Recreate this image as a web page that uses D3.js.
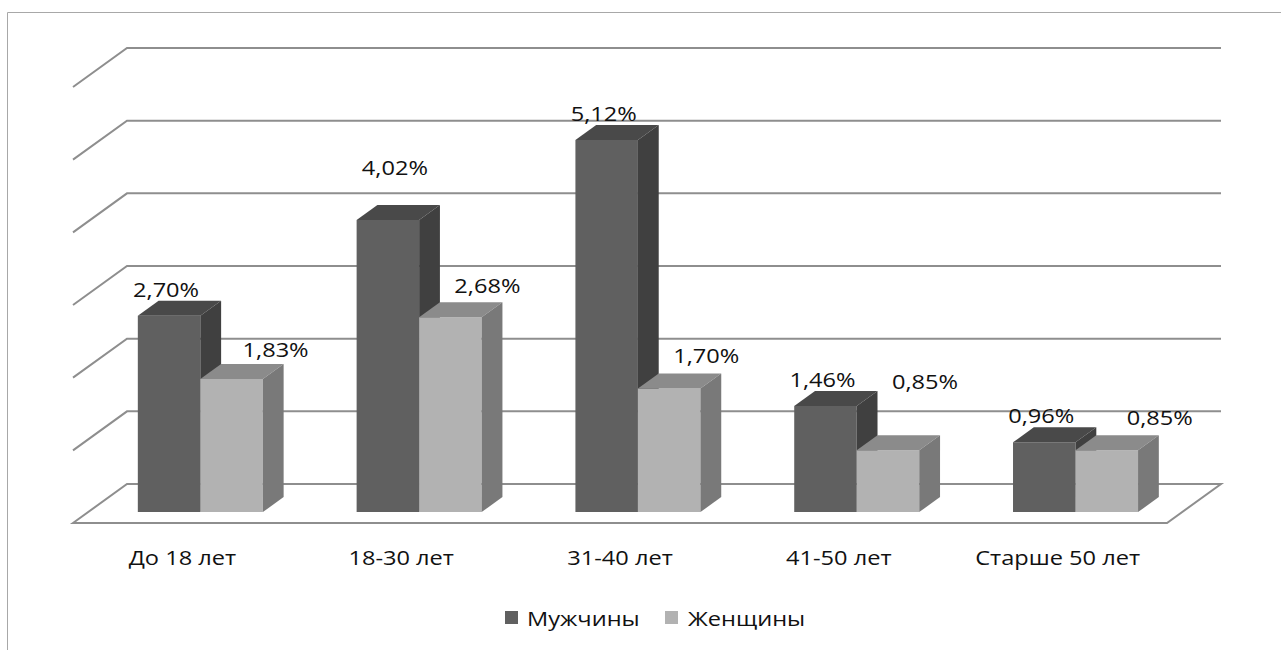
<!DOCTYPE html>
<html>
<head>
<meta charset="utf-8">
<script src="https://cdn.jsdelivr.net/npm/d3@7"></script>
<style>
  html, body { margin: 0; padding: 0; background: #fff; }
  svg { display: block; }
  text { font-family: "Open Sans", "Liberation Sans", sans-serif; fill: #111; }
</style>
</head>
<body>
<svg id="chart" width="1281" height="650"></svg>
<script>
// Age groups and the two series (share, %)
const categories = ["До 18 лет", "18-30 лет", "31-40 лет", "41-50 лет", "Старше 50 лет"];
const seriesNames = ["Мужчины", "Женщины"];
const menValues = [2.70, 4.02, 5.12, 1.46, 0.96];
const womenValues = [1.83, 2.68, 1.70, 0.85, 0.85];
const gridTicks = [0, 1, 2, 3, 4, 5, 6];

// Small per-label nudges (px) so value labels sit clear of neighbours
const menLabelNudge = [[0, 0], [10, -26], [0, 0], [0, 0], [0, 0]];
const womenLabelNudge = [[7, 2], [0, 0], [0, -2], [0, -37], [16, -1]];

const svg = d3.select("#chart");

// Pseudo-3D layout: front floor edge, wall depth offset
const floorLeft = 73, floorRight = 1167, floorFront = 523;
const depthX = 54, depthY = 39;
const barDepth0 = 0.28, barDepth1 = 0.665;
const textStretch = 1.18;

const x = d3.scaleBand().domain(categories).range([floorLeft, floorRight]).padding(0);
const xs = d3.scaleBand().domain(seriesNames).range([0, x.bandwidth()])
  .paddingInner(0).paddingOuter(0.75).align(0.53);
const y = d3.scaleLinear().domain([0, 6]).range([floorFront, floorFront - 6 * 72.67]);

// project (u along front plane, value, depth 0..1) to the screen
const proj = (u, v, w) => [u + w * depthX, y(v) - w * depthY];
const poly = pts => "M" + pts.map(p => p.join(",")).join("L") + "Z";
const line = pts => "M" + pts.map(p => p.join(",")).join("L");

// Outer frame
svg.append("path")
  .attr("d", "M7.5,650 L7.5,12.5 L1281,12.5")
  .attr("fill", "none").attr("stroke", "#a8a8a8").attr("stroke-width", 1);

// Walls: gridlines on back wall plus diagonals on the side wall
const grid = svg.append("g").attr("fill", "none").attr("stroke", "#8e8e8e").attr("stroke-width", 2);
gridTicks.forEach(t => {
  if (t === 0) {
    grid.append("path").attr("d", poly([
      proj(floorLeft, 0, 0), proj(floorLeft, 0, 1),
      proj(floorRight, 0, 1), proj(floorRight, 0, 0)
    ]));
  } else {
    grid.append("path").attr("d", line([
      proj(floorLeft, t, 0), proj(floorLeft, t, 1), proj(floorRight, t, 1)
    ]));
  }
});

// Bars
const palette = {
  "Мужчины": { front: "#606060", top: "#494949", side: "#404040" },
  "Женщины": { front: "#b2b2b2", top: "#8b8b8b", side: "#797979" }
};
const seriesData = { "Мужчины": menValues, "Женщины": womenValues };
const nudges = { "Мужчины": menLabelNudge, "Женщины": womenLabelNudge };
const labelBase = { "Мужчины": [-3, -4], "Женщины": [37, -9] };

const bars = svg.append("g");
const labels = svg.append("g");
const fmt = v => d3.format(".2f")(v).replace(".", ",") + "%";

categories.forEach((cat, i) => {
  seriesNames.forEach(s => {
    const v = seriesData[s][i];
    const u0 = x(cat) + xs(s), u1 = u0 + xs.bandwidth();
    const c = palette[s];
    const g = bars.append("g");
    // front face
    g.append("path").attr("fill", c.front).attr("d", poly([
      proj(u0, 0, barDepth0), proj(u0, v, barDepth0), proj(u1, v, barDepth0), proj(u1, 0, barDepth0)
    ]));
    // top face
    g.append("path").attr("fill", c.top).attr("d", poly([
      proj(u0, v, barDepth0), proj(u0, v, barDepth1), proj(u1, v, barDepth1), proj(u1, v, barDepth0)
    ]));
    // right side face
    g.append("path").attr("fill", c.side).attr("d", poly([
      proj(u1, 0, barDepth0), proj(u1, v, barDepth0), proj(u1, v, barDepth1), proj(u1, 0, barDepth1)
    ]));

    // value label
    const fc = proj((u0 + u1) / 2, v, barDepth0);
    const bt = proj((u0 + u1) / 2, v, barDepth1);
    const lx = fc[0] + labelBase[s][0] + nudges[s][i][0];
    const ly = bt[1] + labelBase[s][1] + nudges[s][i][1];
    labels.append("text")
      .attr("transform", `translate(${lx},${ly}) scale(${textStretch},1)`)
      .attr("text-anchor", "middle")
      .attr("font-size", 20)
      .text(fmt(v));
  });
});

// Category labels under the floor
const axisG = svg.append("g");
categories.forEach(cat => {
  const cx = x(cat) + x.bandwidth() / 2;
  axisG.append("text")
    .attr("transform", `translate(${cx},565) scale(${textStretch},1)`)
    .attr("text-anchor", "middle")
    .attr("font-size", 20)
    .text(cat);
});

// Legend
const legendItems = [
  { name: seriesNames[0], sx: 505, tx: 527 },
  { name: seriesNames[1], sx: 665, tx: 688 }
];
const legend = svg.append("g");
legendItems.forEach(d => {
  legend.append("rect").attr("x", d.sx).attr("y", 611).attr("width", 13).attr("height", 13)
    .attr("fill", palette[d.name].front);
  legend.append("text")
    .attr("transform", `translate(${d.tx},626) scale(${textStretch},1)`)
    .attr("font-size", 20)
    .text(d.name);
});
</script>
</body>
</html>
